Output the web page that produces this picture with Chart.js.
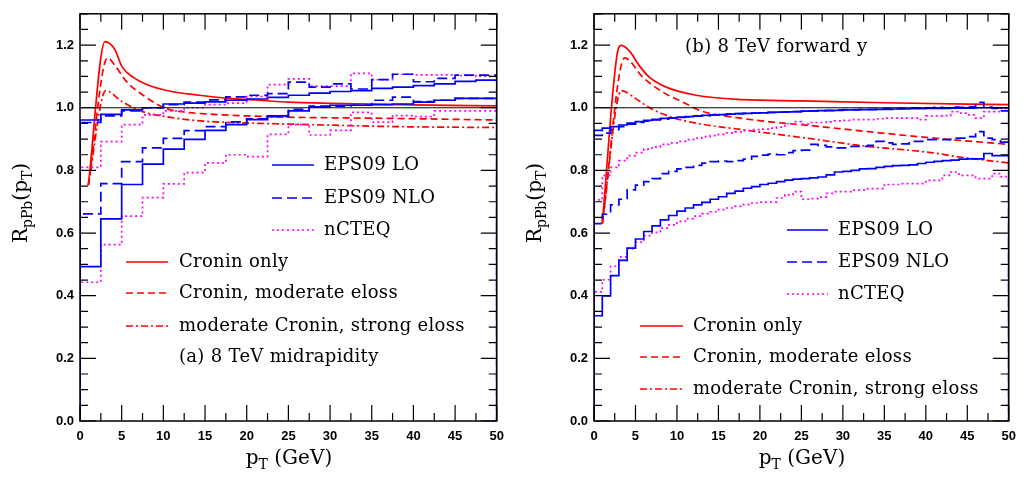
<!DOCTYPE html>
<html>
<head>
<meta charset="utf-8">
<script src="https://cdn.jsdelivr.net/npm/chart.js@4"></script>
<style>
  html, body { margin: 0; padding: 0; background: #fff; }
  #wrap { position: relative; width: 1024px; height: 479px; }
  canvas { position: absolute; top: 0; }
</style>
</head>
<body>
<div id="wrap">
  <canvas id="left" width="512" height="479" style="left:0"></canvas>
  <canvas id="right" width="512" height="479" style="left:512px"></canvas>
</div>
<script>
// (a) midrapidity, 2.5 GeV bins
const leftBin = 2.5;
const leftLoUpper = [0.961, 0.979, 0.993, 1.000, 1.012, 1.015, 1.019, 1.024, 1.028, 1.033, 1.040, 1.047, 1.052, 1.055, 1.062, 1.066, 1.071, 1.076, 1.084, 1.088];
const leftLoLower = [0.493, 0.645, 0.755, 0.820, 0.868, 0.899, 0.928, 0.946, 0.962, 0.974, 0.990, 1.003, 1.008, 1.008, 1.010, 1.012, 1.018, 1.024, 1.030, 1.030];
const leftNloUpper = [0.953, 0.974, 0.990, 1.000, 1.010, 1.018, 1.025, 1.035, 1.040, 1.045, 1.082, 1.066, 1.076, 1.060, 1.090, 1.107, 1.083, 1.094, 1.104, 1.104];
const leftNloLower = [0.661, 0.758, 0.828, 0.872, 0.902, 0.927, 0.940, 0.955, 0.965, 0.972, 0.995, 1.005, 1.005, 1.008, 1.024, 1.034, 1.020, 1.024, 1.030, 1.030];
const leftNcUpper = [0.810, 0.892, 0.946, 0.977, 0.990, 1.000, 1.010, 1.015, 1.036, 1.074, 1.092, 1.069, 1.069, 1.110, 1.090, 1.107, 1.105, 1.105, 1.103, 1.100];
const leftNcLower = [0.443, 0.563, 0.654, 0.713, 0.757, 0.793, 0.824, 0.850, 0.844, 0.915, 0.946, 0.913, 0.928, 0.985, 0.954, 0.975, 0.972, 0.990, 0.990, 0.990];

const leftCroninX = [1.0, 3.0, 4.2, 5.0, 6.4, 8.0, 10.4, 14.3, 18.3, 21.5, 25, 30, 40, 50];
const leftCronin = [0.753, 1.211, 1.185, 1.133, 1.097, 1.074, 1.055, 1.040, 1.029, 1.024, 1.018, 1.014, 1.009, 1.006];
const leftModX = [1.0, 3.3, 4.2, 5.5, 7.9, 10.3, 12, 16, 20, 25, 37.5, 50];
const leftMod = [0.753, 1.159, 1.135, 1.086, 1.034, 0.998, 0.988, 0.979, 0.974, 0.970, 0.966, 0.961];
const leftStrongX = [1.0, 3.1, 5.0, 7.6, 10.2, 14, 18, 25, 37.5, 50];
const leftStrong = [0.753, 1.055, 1.020, 0.987, 0.972, 0.959, 0.953, 0.948, 0.940, 0.937];

// (b) forward y, 1 GeV bins
const rightBin = 1;
const rightLoUpper = [0.928, 0.935, 0.940, 0.945, 0.951, 0.956, 0.960, 0.963, 0.966, 0.968, 0.970, 0.972, 0.974, 0.976, 0.977, 0.978, 0.980, 0.981, 0.982, 0.983, 0.984, 0.985, 0.986, 0.987, 0.988, 0.989, 0.990, 0.991, 0.991, 0.992, 0.993, 0.993, 0.994, 0.994, 0.995, 0.995, 0.996, 0.996, 0.997, 0.997, 0.998, 0.998, 0.998, 0.999, 0.999, 0.999, 1.000, 1.000, 1.000, 1.000];
const rightLoLower = [0.336, 0.399, 0.464, 0.513, 0.552, 0.581, 0.605, 0.623, 0.642, 0.656, 0.670, 0.680, 0.690, 0.698, 0.708, 0.716, 0.727, 0.734, 0.743, 0.748, 0.755, 0.759, 0.764, 0.769, 0.772, 0.774, 0.776, 0.779, 0.786, 0.795, 0.797, 0.800, 0.805, 0.806, 0.810, 0.813, 0.815, 0.816, 0.818, 0.822, 0.826, 0.829, 0.831, 0.833, 0.836, 0.837, 0.837, 0.854, 0.847, 0.847];
const rightNloUpper = [0.912, 0.919, 0.930, 0.940, 0.948, 0.953, 0.957, 0.961, 0.964, 0.967, 0.969, 0.971, 0.973, 0.975, 0.977, 0.978, 0.980, 0.981, 0.982, 0.983, 0.984, 0.985, 0.986, 0.987, 0.988, 0.989, 0.990, 0.991, 0.992, 0.993, 0.994, 0.994, 0.995, 0.995, 0.996, 0.997, 0.997, 0.998, 0.999, 0.999, 1.000, 1.001, 1.000, 1.002, 1.001, 1.003, 1.017, 1.002, 0.998, 0.990];
const rightNloLower = [0.630, 0.660, 0.690, 0.708, 0.738, 0.753, 0.764, 0.774, 0.790, 0.797, 0.805, 0.810, 0.816, 0.823, 0.828, 0.830, 0.828, 0.831, 0.836, 0.845, 0.849, 0.852, 0.850, 0.857, 0.863, 0.865, 0.883, 0.880, 0.875, 0.872, 0.872, 0.877, 0.877, 0.880, 0.893, 0.888, 0.883, 0.885, 0.893, 0.893, 0.898, 0.898, 0.898, 0.903, 0.903, 0.908, 0.924, 0.903, 0.898, 0.890];
const rightNcUpper = [0.706, 0.784, 0.810, 0.831, 0.847, 0.857, 0.868, 0.875, 0.883, 0.888, 0.893, 0.898, 0.903, 0.908, 0.911, 0.915, 0.920, 0.923, 0.927, 0.930, 0.932, 0.935, 0.938, 0.949, 0.956, 0.948, 0.953, 0.953, 0.955, 0.958, 0.960, 0.962, 0.962, 0.962, 0.965, 0.967, 0.967, 0.967, 0.967, 0.962, 0.974, 0.974, 0.975, 0.988, 0.983, 0.977, 0.967, 0.988, 0.988, 0.998];
const rightNcLower = [0.412, 0.451, 0.494, 0.524, 0.550, 0.571, 0.592, 0.602, 0.616, 0.626, 0.637, 0.646, 0.654, 0.662, 0.668, 0.675, 0.680, 0.685, 0.691, 0.696, 0.699, 0.699, 0.712, 0.722, 0.732, 0.708, 0.710, 0.715, 0.727, 0.732, 0.732, 0.737, 0.737, 0.742, 0.742, 0.755, 0.755, 0.758, 0.758, 0.758, 0.768, 0.768, 0.784, 0.795, 0.784, 0.784, 0.774, 0.774, 0.790, 0.780];

const rightCroninX = [1.0, 2.9, 3.3, 4.3, 5.5, 6.7, 8.7, 12.3, 17.9, 25, 35, 50];
const rightCronin = [0.631, 1.185, 1.199, 1.180, 1.133, 1.097, 1.066, 1.040, 1.026, 1.022, 1.016, 1.010];
const rightModX = [1.0, 3.7, 5.9, 8.3, 11.1, 12.9, 17.6, 22, 25, 32.6, 40.6, 50];
const rightMod = [0.631, 1.159, 1.097, 1.050, 1.013, 0.990, 0.967, 0.953, 0.946, 0.925, 0.904, 0.883];
const rightStrongX = [1.0, 3.3, 5.0, 6.7, 9.1, 12.3, 17.9, 25.9, 32.6, 40.6, 44.3, 50];
const rightStrong = [0.631, 1.055, 1.030, 1.000, 0.972, 0.951, 0.930, 0.902, 0.878, 0.857, 0.842, 0.824];

const legendLabels = ["EPS09 LO", "EPS09 NLO", "nCTEQ", "Cronin only", "Cronin, moderate eloss", "moderate Cronin, strong eloss"];

const BLUE = "#0000ff", MAG = "#ff00ff", RED = "#ff0000";
const styles = [
  { color: BLUE, dash: [] },
  { color: BLUE, dash: [10, 5] },
  { color: MAG, dash: [2, 3] },
  { color: RED, dash: [] },
  { color: RED, dash: [7, 4] },
  { color: RED, dash: [7, 3, 2, 3] },
];

function histData(vals, w) {
  const pts = [{ x: 0, y: 0 }];
  vals.forEach((v, i) => {
    pts.push({ x: i * w, y: v });
    pts.push({ x: (i + 1) * w, y: v });
  });
  pts.push({ x: vals.length * w, y: 0 });
  return pts;
}

function curveData(xs, ys) {
  return xs.map((x, i) => ({ x: x, y: ys[i] }));
}

function lineSet(data, st, smooth) {
  return {
    data: data,
    borderColor: st.color,
    borderDash: st.dash,
    borderWidth: 1.7,
    pointRadius: 0,
    fill: false,
    cubicInterpolationMode: smooth ? "monotone" : "default",
    tension: 0,
  };
}

function drawSubText(ctx, parts, x, y, align) {
  // parts: [text, isSub]
  const main = "20px 'DejaVu Serif'", sub = "14px 'DejaVu Serif'";
  let total = 0;
  parts.forEach((p) => {
    ctx.font = p[1] ? sub : main;
    total += ctx.measureText(p[0]).width;
  });
  let cx = align === "center" ? x - total / 2 : x;
  ctx.textAlign = "left";
  ctx.textBaseline = "alphabetic";
  parts.forEach((p) => {
    ctx.font = p[1] ? sub : main;
    ctx.fillText(p[0], cx, y + (p[1] ? 5 : 0));
    cx += ctx.measureText(p[0]).width;
  });
}

function makeChart(id, panel) {
  const decor = {
    id: "decor",
    afterDraw(chart) {
      const ctx = chart.ctx;
      const xs = chart.scales.x, ys = chart.scales.y;
      const a = chart.chartArea;
      ctx.save();
      ctx.strokeStyle = "#000";
      ctx.lineWidth = 1.2;
      ctx.setLineDash([]);
      ctx.beginPath();
      for (let i = 0; i <= 20; i++) {
        const px = xs.getPixelForValue(i * 2.5);
        const len = i % 2 === 0 ? 16 : 8;
        ctx.moveTo(px, a.bottom); ctx.lineTo(px, a.bottom - len);
        ctx.moveTo(px, a.top); ctx.lineTo(px, a.top + len);
      }
      for (let i = 0; i <= 26; i++) {
        const py = ys.getPixelForValue(i * 0.05);
        const len = i % 4 === 0 ? 16 : 8;
        ctx.moveTo(a.left, py); ctx.lineTo(a.left + len, py);
        ctx.moveTo(a.right, py); ctx.lineTo(a.right - len, py);
      }
      ctx.stroke();
      ctx.lineWidth = 1.5;
      ctx.strokeRect(a.left, a.top, a.right - a.left, a.bottom - a.top);

      // legend
      ctx.font = "18px 'DejaVu Serif'";
      ctx.letterSpacing = "0.3px";
      ctx.fillStyle = "#000";
      ctx.textBaseline = "middle";
      ctx.textAlign = "left";
      panel.legend.forEach((it, i) => {
        const st = styles[i];
        ctx.strokeStyle = st.color;
        ctx.lineWidth = 1.7;
        ctx.setLineDash(st.dash);
        ctx.beginPath();
        ctx.moveTo(it[0], it[3]);
        ctx.lineTo(it[1], it[3]);
        ctx.stroke();
        ctx.fillText(legendLabels[i], it[2], it[3]);
      });
      ctx.setLineDash([]);
      ctx.fillText(panel.label, panel.labelPos[0], panel.labelPos[1]);
      ctx.letterSpacing = "0px";

      // axis titles
      drawSubText(ctx, [["p", false], ["T", true], [" (GeV)", false]], panel.xTitle[0], panel.xTitle[1], "center");
      ctx.save();
      ctx.translate(panel.yTitle[0], panel.yTitle[1]);
      ctx.rotate(-Math.PI / 2);
      drawSubText(ctx, [["R", false], ["pPb", true], ["(p", false], ["T", true], [")", false]], 0, 0, "center");
      ctx.restore();
      ctx.restore();
    },
  };

  const tickFont = { family: "'Liberation Sans', Arial, sans-serif", size: 13, weight: "bold" };

  new Chart(document.getElementById(id), {
    type: "line",
    data: {
      datasets: [
        { data: [{ x: 0, y: 1 }, { x: 50, y: 1 }], borderColor: "#000", borderWidth: 1, pointRadius: 0 },
        lineSet(histData(panel.loU, panel.bin), styles[0]),
        lineSet(histData(panel.loL, panel.bin), styles[0]),
        lineSet(histData(panel.nloU, panel.bin), styles[1]),
        lineSet(histData(panel.nloL, panel.bin), styles[1]),
        lineSet(histData(panel.ncU, panel.bin), styles[2]),
        lineSet(histData(panel.ncL, panel.bin), styles[2]),
        lineSet(panel.cronin, styles[3], true),
        lineSet(panel.mod, styles[4], true),
        lineSet(panel.strong, styles[5], true),
      ],
    },
    options: {
      responsive: false,
      animation: false,
      devicePixelRatio: 1,
      layout: { padding: { top: 5, right: panel.padRight, left: 0, bottom: 0 } },
      plugins: { legend: { display: false }, tooltip: { enabled: false } },
      scales: {
        x: {
          type: "linear",
          min: 0,
          max: 50,
          afterFit(s) { s.height = 58; },
          grid: { display: false, drawTicks: false },
          border: { display: false },
          ticks: { stepSize: 5, padding: 8, color: "#000", font: tickFont, maxRotation: 0, autoSkip: false },
        },
        y: {
          type: "linear",
          min: 0,
          max: 1.3,
          afterFit(s) { s.width = panel.yWidth; },
          grid: { display: false, drawTicks: false },
          border: { display: false },
          ticks: {
            stepSize: 0.2,
            includeBounds: false,
            padding: 6,
            color: "#000",
            font: tickFont,
            callback: (v) => v.toFixed(1),
          },
        },
      },
    },
    plugins: [decor],
  });
}

makeChart("left", {
  bin: leftBin,
  loU: leftLoUpper, loL: leftLoLower,
  nloU: leftNloUpper, nloL: leftNloLower,
  ncU: leftNcUpper, ncL: leftNcLower,
  cronin: curveData(leftCroninX, leftCronin),
  mod: curveData(leftModX, leftMod),
  strong: curveData(leftStrongX, leftStrong),
  padRight: 14,
  yWidth: 80,
  legend: [
    [272, 314, 324, 165],
    [272, 314, 324, 198],
    [272, 314, 324, 230],
    [126, 168, 179, 262],
    [126, 168, 179, 293],
    [126, 168, 179, 326],
  ],
  label: "(a) 8 TeV midrapidity",
  labelPos: [179, 357],
  xTitle: [289, 464],
  yTitle: [27, 203],
});

makeChart("right", {
  bin: rightBin,
  loU: rightLoUpper, loL: rightLoLower,
  nloU: rightNloUpper, nloL: rightNloLower,
  ncU: rightNcUpper, ncL: rightNcLower,
  cronin: curveData(rightCroninX, rightCronin),
  mod: curveData(rightModX, rightMod),
  strong: curveData(rightStrongX, rightStrong),
  padRight: 12,
  yWidth: 82,
  legend: [
    [275, 316, 326, 230],
    [275, 316, 326, 262],
    [275, 316, 326, 294],
    [128, 171, 181, 326],
    [128, 171, 181, 357],
    [128, 171, 181, 389],
  ],
  label: "(b) 8 TeV forward y",
  labelPos: [173, 47],
  xTitle: [290, 464],
  yTitle: [29, 203],
});
</script>
</body>
</html>
